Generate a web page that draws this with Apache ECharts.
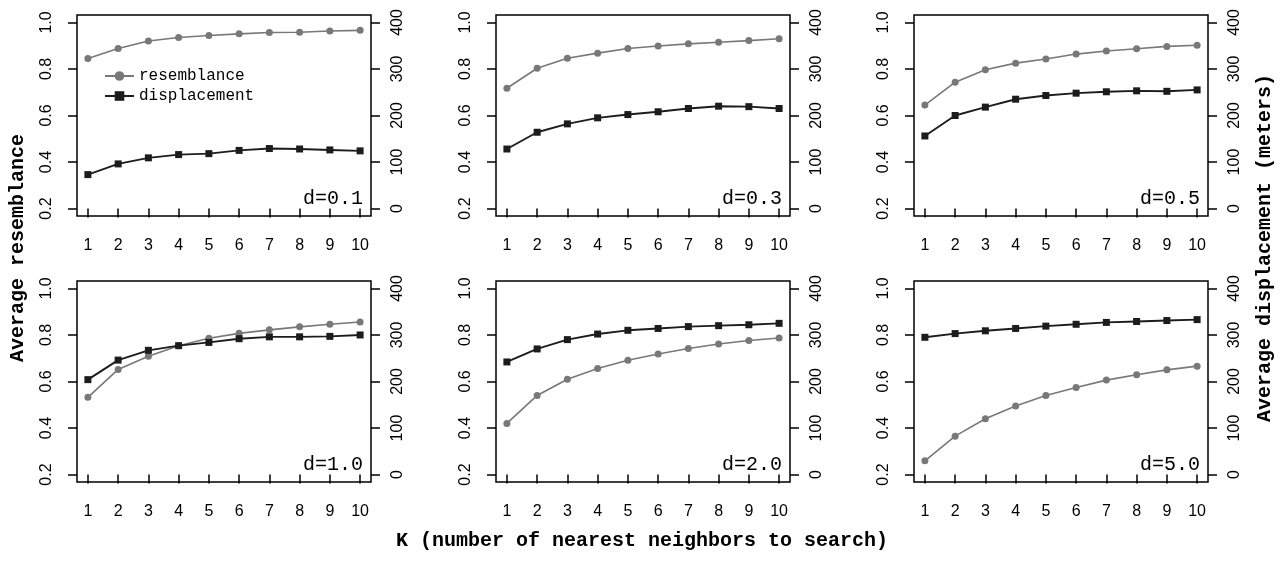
<!DOCTYPE html>
<html>
<head>
<meta charset="utf-8">
<script src="https://cdn.jsdelivr.net/npm/echarts@6/dist/echarts.min.js"></script>
<style>
  html, body { margin: 0; padding: 0; background: #fff; }
  #chart { width: 1282px; height: 561px; }
</style>
</head>
<body>
<div id="chart"></div>
<script>
// K values on the x axis
const kValues = [1, 2, 3, 4, 5, 6, 7, 8, 9, 10];
const xTicks = [1, 2, 3, 4, 5, 6, 7, 8, 9, 10];
const resTicks = [0.2, 0.4, 0.6, 0.8, 1.0];
const dispTicks = [0, 100, 200, 300, 400];
const panelLabels = ['d=0.1', 'd=0.3', 'd=0.5', 'd=1.0', 'd=2.0', 'd=5.0'];

// average resemblance per panel
const res01 = [0.845, 0.888, 0.920, 0.935, 0.944, 0.951, 0.957, 0.958, 0.963, 0.966];
const res03 = [0.717, 0.803, 0.846, 0.868, 0.888, 0.899, 0.908, 0.915, 0.922, 0.930];
const res05 = [0.645, 0.743, 0.797, 0.825, 0.843, 0.864, 0.877, 0.887, 0.897, 0.902];
const res10 = [0.532, 0.652, 0.709, 0.754, 0.786, 0.807, 0.822, 0.835, 0.846, 0.856];
const res20 = [0.420, 0.540, 0.610, 0.656, 0.691, 0.718, 0.742, 0.761, 0.776, 0.787];
const res50 = [0.259, 0.365, 0.440, 0.495, 0.540, 0.574, 0.606, 0.629, 0.650, 0.666];

// average displacement (meters) per panel
const disp01 = [73, 96, 109, 116, 118, 125, 129, 128, 126, 124];
const disp03 = [128, 164, 182, 195, 202, 208, 215, 220, 219, 215];
const disp05 = [156, 200, 218, 235, 243, 248, 251, 253, 252, 255];
const disp10 = [204, 246, 267, 277, 284, 292, 296, 296, 297, 300];
const disp20 = [242, 270, 290, 302, 310, 314, 318, 320, 322, 325];
const disp50 = [295, 303, 309, 314, 319, 323, 327, 329, 331, 333];

const resSets = [res01, res03, res05, res10, res20, res50];
const dispSets = [disp01, disp03, disp05, disp10, disp20, disp50];

// layout
const colLeft = [77, 496, 914];
const rowTop = [15, 281];
const boxW = 294;
const boxH = 201;
const W = 1282;

const grayColor = '#787878';
const blackColor = '#1c1c1c';
const sansFont = 'Liberation Sans';
const monoFont = 'Liberation Mono';

const chart = echarts.init(document.getElementById('chart'));

const grids = [], xAxes = [], yAxes = [], series = [], titles = [];

panelLabels.forEach((label, i) => {
  const left = colLeft[i % 3];
  const top = rowTop[Math.floor(i / 3)];

  grids.push({
    left: left, top: top, width: boxW, height: boxH,
    show: true, borderColor: '#000', borderWidth: 1.5, backgroundColor: 'transparent'
  });

  xAxes.push({
    type: 'value', gridIndex: i,
    min: 0.64, max: 10.36,
    axisLine: { show: false },
    splitLine: { show: false },
    axisTick: { show: true, length: 9, customValues: xTicks, lineStyle: { color: '#000', width: 1.5 } },
    axisLabel: { customValues: xTicks, margin: 22, fontFamily: sansFont, fontSize: 16, color: '#000' }
  });

  // left axis: resemblance, range padded by 4% like the original
  yAxes.push({
    type: 'value', gridIndex: i, position: 'left',
    min: 0.168, max: 1.032,
    axisLine: { show: false },
    splitLine: { show: false },
    axisTick: { show: true, length: 9, customValues: resTicks, lineStyle: { color: '#000', width: 1.5 } },
    axisLabel: {
      customValues: resTicks, rotate: 90, margin: 22,
      fontFamily: sansFont, fontSize: 16, color: '#000',
      formatter: v => v.toFixed(1)
    }
  });

  // right axis: displacement
  yAxes.push({
    type: 'value', gridIndex: i, position: 'right',
    min: -16, max: 416,
    axisLine: { show: false },
    splitLine: { show: false },
    axisTick: { show: true, length: 9, customValues: dispTicks, lineStyle: { color: '#000', width: 1.5 } },
    axisLabel: {
      customValues: dispTicks, rotate: 90, margin: 19,
      fontFamily: sansFont, fontSize: 16, color: '#000'
    }
  });

  series.push({
    name: 'resemblance', type: 'line',
    xAxisIndex: i, yAxisIndex: i * 2,
    data: kValues.map((k, j) => [k, resSets[i][j]]),
    symbol: 'circle', symbolSize: 7,
    lineStyle: { color: grayColor, width: 1.6 },
    itemStyle: { color: grayColor },
    animation: false, z: 3
  });

  series.push({
    name: 'displacement', type: 'line',
    xAxisIndex: i, yAxisIndex: i * 2 + 1,
    data: kValues.map((k, j) => [k, dispSets[i][j]]),
    symbol: 'rect', symbolSize: 7,
    lineStyle: { color: blackColor, width: 1.9 },
    itemStyle: { color: blackColor },
    animation: false, z: 4
  });

  titles.push({
    text: label,
    right: W - (left + boxW) + 8,
    top: top + boxH - 27,
    padding: 0,
    textStyle: { fontFamily: monoFont, fontSize: 20, fontWeight: 'normal', color: '#000' }
  });
});

const option = {
  backgroundColor: '#fff',
  animation: false,
  title: titles,
  legend: {
    data: ['resemblance', 'displacement'],
    orient: 'vertical',
    left: 104, top: 68,
    padding: 0,
    itemWidth: 29, itemHeight: 12, itemGap: 4,
    textStyle: { fontFamily: monoFont, fontSize: 16, color: '#000' }
  },
  grid: grids,
  xAxis: xAxes,
  yAxis: yAxes,
  series: series,
  graphic: [
    {
      type: 'text', x: 18, y: 248, rotation: Math.PI / 2,
      style: {
        text: 'Average resemblance', fontFamily: monoFont, fontSize: 20, fontWeight: 'bold',
        fill: '#000', align: 'center', verticalAlign: 'middle'
      }
    },
    {
      type: 'text', x: 1265, y: 248, rotation: Math.PI / 2,
      style: {
        text: 'Average displacement (meters)', fontFamily: monoFont, fontSize: 20, fontWeight: 'bold',
        fill: '#000', align: 'center', verticalAlign: 'middle'
      }
    },
    {
      type: 'text', x: 642, y: 541,
      style: {
        text: 'K (number of nearest neighbors to search)', fontFamily: monoFont, fontSize: 20, fontWeight: 'bold',
        fill: '#000', align: 'center', verticalAlign: 'middle'
      }
    }
  ]
};

chart.setOption(option);
</script>
</body>
</html>
